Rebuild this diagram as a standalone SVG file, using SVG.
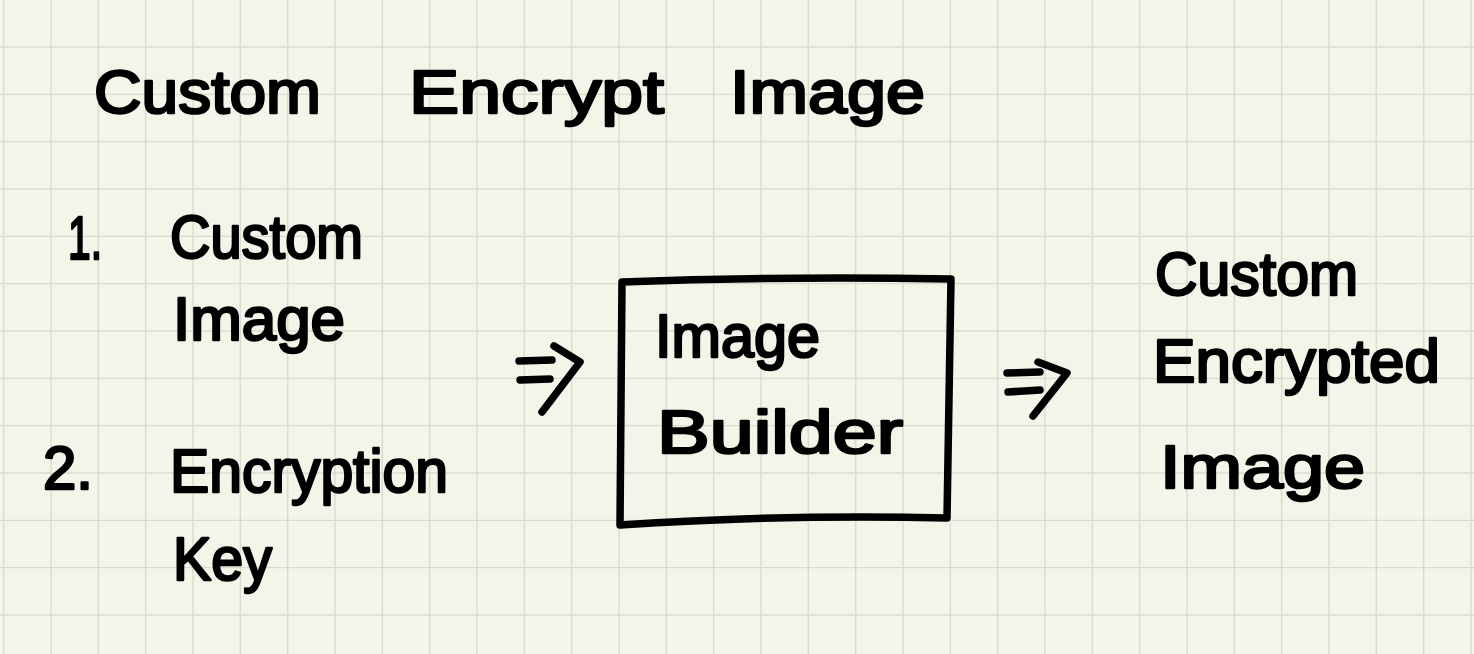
<svg xmlns="http://www.w3.org/2000/svg" width="1474" height="654" viewBox="0 0 1474 654">
  <style>
    .grid { fill: none; stroke: #dadace; stroke-width: 1.4; }
    .hand { font-family: "Liberation Sans", "Noto Sans", sans-serif; font-size: 62px; fill: #000; stroke: #000; stroke-width: 2.6; stroke-linejoin: round; }
    .ink { fill: none; stroke: #000; stroke-width: 7.5; stroke-linecap: round; stroke-linejoin: round; }
  </style>
  <rect width="1474" height="654" fill="#f5f4e8"/>
  <path class="grid" d="M3.67 0V654 M51 0V654 M98.33 0V654 M145.67 0V654 M193 0V654 M240.33 0V654 M287.67 0V654 M335 0V654 M382.33 0V654 M429.67 0V654 M477 0V654 M524.33 0V654 M571.67 0V654 M619 0V654 M666.33 0V654 M713.67 0V654 M761 0V654 M808.33 0V654 M855.67 0V654 M903 0V654 M950.33 0V654 M997.67 0V654 M1045 0V654 M1092.33 0V654 M1139.67 0V654 M1187 0V654 M1234.33 0V654 M1281.67 0V654 M1329 0V654 M1376.33 0V654 M1423.67 0V654 M1471 0V654 M0 47H1474 M0 94.33H1474 M0 141.67H1474 M0 189H1474 M0 236.33H1474 M0 283.67H1474 M0 331H1474 M0 378.33H1474 M0 425.67H1474 M0 473H1474 M0 520.33H1474 M0 567.67H1474 M0 615H1474"/>

  <g id="title">
    <text class="hand" x="94" y="113" textLength="227" lengthAdjust="spacingAndGlyphs">Custom</text>
    <text class="hand" x="409" y="113" textLength="255" lengthAdjust="spacingAndGlyphs">Encrypt</text>
    <text class="hand" x="730" y="113" textLength="195" lengthAdjust="spacingAndGlyphs">Image</text>
  </g>

  <g id="input1">
    <text class="hand" x="68" y="259" textLength="34" lengthAdjust="spacingAndGlyphs">1.</text>
    <text class="hand" x="170" y="258" textLength="193" lengthAdjust="spacingAndGlyphs">Custom</text>
    <text class="hand" x="173" y="340" textLength="172" lengthAdjust="spacingAndGlyphs">Image</text>
  </g>

  <g id="input2">
    <text class="hand" x="43" y="489" textLength="50" lengthAdjust="spacingAndGlyphs">2.</text>
    <text class="hand" x="170" y="492" textLength="278" lengthAdjust="spacingAndGlyphs">Encryption</text>
    <text class="hand" x="173" y="580" textLength="99" lengthAdjust="spacingAndGlyphs">Key</text>
  </g>

  <g id="image-builder">
    <path class="ink" d="M622 282 Q780 276 951 279 Q949 400 947 518 Q790 514 620 525 Q621 400 622 282 Z"/>
    <text class="hand" x="655" y="357" textLength="165" lengthAdjust="spacingAndGlyphs">Image</text>
    <text class="hand" x="657" y="453" textLength="246" lengthAdjust="spacingAndGlyphs">Builder</text>
  </g>

  <g id="output">
    <text class="hand" x="1155" y="295" textLength="203" lengthAdjust="spacingAndGlyphs">Custom</text>
    <text class="hand" x="1153" y="382" textLength="287" lengthAdjust="spacingAndGlyphs">Encrypted</text>
    <text class="hand" x="1160" y="488" textLength="205" lengthAdjust="spacingAndGlyphs">Image</text>
  </g>

  <g id="connectors">
    <path class="ink" d="M519 361 L552 360 M520 380 L550 379 M554 346 L580 362 L542 412"/>
    <path class="ink" d="M1007 373 L1040 372 M1008 392 L1040 390 M1038 362 L1067 373 L1033 416"/>
  </g>
</svg>
